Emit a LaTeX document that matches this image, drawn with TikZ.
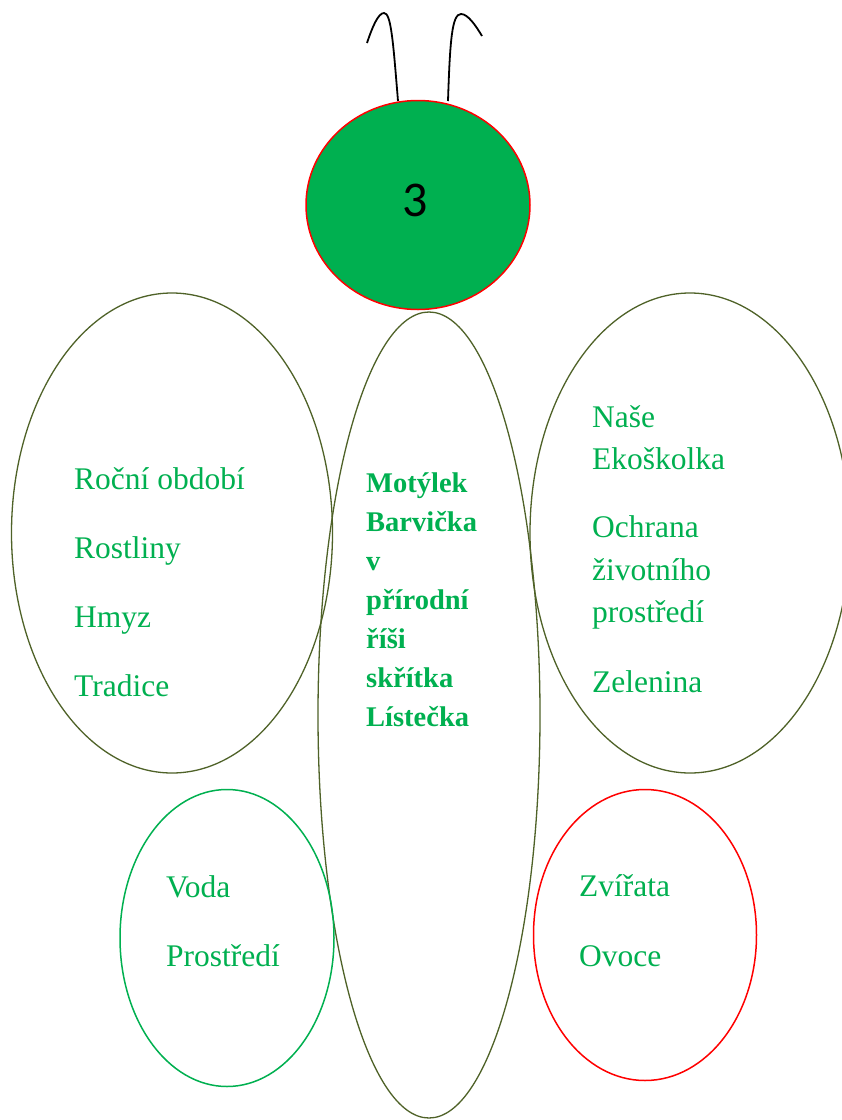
\documentclass[tikz,border=0pt]{standalone}
\usepackage{fontspec}
\setmainfont{Liberation Serif}
\newfontfamily\digitfont{Carlito}
\usetikzlibrary{shapes.geometric}
\definecolor{leafgreen}{HTML}{00B050}
\definecolor{wingolive}{HTML}{4F6228}

\begin{document}
\begin{tikzpicture}
[
  x=1pt,
  y=-1pt,
	wing/.style={ellipse,draw=wingolive,line width=1.3pt,inner sep=0pt},
	small/.style={ellipse,line width=1.5pt,inner sep=0pt},
	label/.style={anchor=base west,inner sep=0pt,text=leafgreen,font=\fontsize{31.5}{38}\selectfont},
	title/.style={anchor=base west,inner sep=0pt,text=leafgreen,font=\fontsize{28.5}{34}\selectfont\bfseries}
]
\clip (0,0) rectangle (842,1120);
\fill[white] (0,0) rectangle (842,1120);

% antennae
\draw[line width=1.8pt] (398,101) .. controls (393,40) and (391,13) .. (384,13) .. controls (378,13) and (372,28) .. (367,43);
\draw[line width=1.8pt] (448,101) .. controls (450,40) and (452,14) .. (461,14) .. controls (468,14) and (476,26) .. (482,36);

% head
\node[ellipse,draw=red,fill=leafgreen,line width=1.5pt,minimum width=224pt,minimum height=209pt,inner sep=0pt] (head) at (418,205) {};
\node[font=\digitfont\fontsize{50}{60}\selectfont] (number) at (415,200) {3};

% wings and body
\node[wing,minimum width=321pt,minimum height=480pt] (upleft) at (172,533) {};
\node[wing,minimum width=320pt,minimum height=480pt] (upright) at (690,533) {};
\node[wing,minimum width=222pt,minimum height=806pt] (body) at (429,715) {};
\node[small,draw=leafgreen,minimum width=214pt,minimum height=297pt] (lowleft) at (227,938) {};
\node[small,draw=red,minimum width=223pt,minimum height=291pt] (lowright) at (645,935) {};

% body text
\node[title] (t1) at (366,492) {Motýlek};
\node[title] (t2) at (366,531) {Barvička};
\node[title] (t3) at (366,570) {v};
\node[title] (t4) at (366,609) {přírodní};
\node[title] (t5) at (366,648) {říši};
\node[title] (t6) at (366,687) {skřítka};
\node[title] (t7) at (366,726) {Lístečka};

% left wing text
\node[label] (season) at (74,489) {Roční období};
\node[label] (plants) at (74,558) {Rostliny};
\node[label] (insect) at (74,627) {Hmyz};
\node[label] (tradition) at (74,696) {Tradice};

% right wing text
\node[label] (our) at (592,427) {Naše};
\node[label] (school) at (592,469) {Ekoškolka};
\node[label] (protect) at (592,537) {Ochrana};
\node[label] (life) at (592,580) {životního};
\node[label] (env) at (592,622) {prostředí};
\node[label] (veg) at (592,692) {Zelenina};

% lower wings text
\node[label] (water) at (166,897) {Voda};
\node[label] (surround) at (166,966) {Prostředí};
\node[label] (animals) at (579,896) {Zvířata};
\node[label] (fruit) at (579,966) {Ovoce};

\end{tikzpicture}
\end{document}
